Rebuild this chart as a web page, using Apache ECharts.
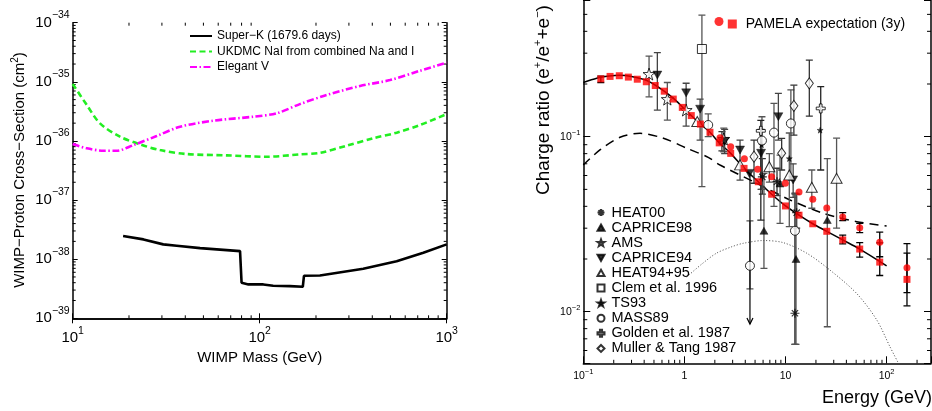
<!DOCTYPE html>
<html><head><meta charset="utf-8">
<script src="https://cdn.jsdelivr.net/npm/echarts@6/dist/echarts.min.js"></script>
<style>html,body{margin:0;padding:0;background:#fff}#c{width:932px;height:411px}</style>
</head><body><div id="c"></div>
<script>
// ================= LEFT PANEL DATA =================
const superkMass  = [18.6, 23.9, 30.5, 36, 48, 78.5, 80, 87, 104.5, 118, 145, 170, 172.5, 210, 358, 540, 750, 1000];
const superkSigma = [2.46e-38, 2.16e-38, 1.78e-38, 1.69e-38, 1.54e-38, 1.37e-38, 3.99e-39, 3.74e-39, 3.74e-39, 3.55e-39, 3.5e-39, 3.41e-39, 5.24e-39, 5.3e-39, 6.88e-39, 9.2e-39, 1.28e-38, 1.78e-38];
const ukdmcMass   = [10, 11.9, 14, 17.9, 22.9, 29.3, 40.7, 66.7, 109, 164, 210, 292, 405, 540, 720, 1000];
const ukdmcSigma  = [9.2e-36, 4.05e-36, 1.98e-36, 1.18e-36, 8.75e-37, 7.0e-37, 6.0e-37, 5.7e-37, 5.4e-37, 5.93e-37, 6.3e-37, 8.3e-37, 1.11e-36, 1.38e-36, 1.86e-36, 2.85e-36];
const elegantMass = [10, 11.9, 14.6, 17.2, 21.1, 28.1, 37.5, 56.5, 92.5, 123, 164, 228, 344, 497, 720, 1000];
const elegantSigma= [8.87e-37, 7.5e-37, 6.83e-37, 6.83e-37, 8.5e-37, 1.21e-36, 1.74e-36, 2.2e-36, 2.57e-36, 2.93e-36, 4.2e-36, 5.98e-36, 8.5e-36, 1.07e-35, 1.54e-35, 2.1e-35];
const leftXRange = [10, 1000];
const leftYRange = [0.9995e-39, 1.0005e-34];
const leftXDecades = [10, 100];
const leftYDecades = [1e-39, 1e-38, 1e-37, 1e-36, 1e-35];
const minorMult = [2, 3, 4, 5, 6, 7, 8, 9];

// ================= RIGHT PANEL DATA =================
const rightXRange = [0.1, 274.8];
const rightYRange = [0.005071, 0.604];
const minorXTicks = [0.2,0.3,0.4,0.5,0.6,0.7,0.8,0.9, 2,3,4,5,6,7,8,9, 20,30,40,50,60,70,80,90, 200];
const minorYTicks = [0.006,0.007,0.008,0.009, 0.02,0.03,0.04,0.05,0.06,0.07,0.08,0.09, 0.2,0.3,0.4,0.5,0.6];

// model curves
const solidE  = [0.1, 0.136, 0.18, 0.227, 0.3, 0.42, 0.6, 0.776, 1.0, 1.44, 1.79, 2.21, 2.87, 3.89, 5.38, 7.29, 10, 13.6, 18.6, 25.6, 36.8, 54.2, 100];
const solidR  = [0.204, 0.216, 0.222, 0.2245, 0.221, 0.21, 0.186, 0.166, 0.144, 0.118, 0.106, 0.0922, 0.0803, 0.0659, 0.0553, 0.0469, 0.0402, 0.0356, 0.0318, 0.0288, 0.0257, 0.0228, 0.0183];
const dashedE = [0.1, 0.146, 0.231, 0.364, 0.62, 1.054, 1.72, 2.25, 5.19, 11.1, 23.7, 50.6, 100];
const dashedR = [0.0689, 0.084, 0.0993, 0.1045, 0.098, 0.0859, 0.0762, 0.0689, 0.0542, 0.0435, 0.0365, 0.0327, 0.0309];
const dottedE = [1.054, 1.5, 2.08, 3.0, 3.83, 6.03, 9.5, 16.2, 27.5, 50.6, 79.8, 108, 131];
const dottedR = [0.0158, 0.0188, 0.0216, 0.0236, 0.0246, 0.0255, 0.0248, 0.0216, 0.0173, 0.0127, 0.00898, 0.0063, 0.00507];

// PAMELA expectation
const pamSqE  = [0.149, 0.184, 0.227, 0.279, 0.342, 0.42, 0.515, 0.632, 0.776, 0.953, 1.17, 1.44, 1.79, 2.21, 2.87, 3.89, 5.38, 7.29, 10.0, 13.6, 18.6, 25.6, 36.8, 54.2, 85.5, 159];
const pamSqR  = [0.214, 0.221, 0.223, 0.219, 0.213, 0.206, 0.196, 0.182, 0.164, 0.147, 0.132, 0.118, 0.106, 0.0922, 0.0803, 0.0659, 0.0553, 0.0469, 0.0402, 0.0356, 0.0318, 0.0288, 0.0257, 0.0228, 0.0192, 0.0153];
const pamCirE = [2.25, 2.87, 3.92, 5.31, 7.29, 9.96, 13.6, 18.6, 25.6, 36.8, 54.2, 85.5, 159];
const pamCirR = [0.0987, 0.0875, 0.0749, 0.0652, 0.059, 0.0542, 0.0483, 0.0439, 0.0391, 0.0348, 0.0302, 0.0249, 0.0178];
const pamErrE  = [0.149, 36.8, 36.8, 54.2, 54.2, 85.5, 85.5, 159, 159];
const pamErrLo = [0.204, 0.0331, 0.0244, 0.0283, 0.0205, 0.0206, 0.0161, 0.01285, 0.0108];
const pamErrHi = [0.222, 0.0368, 0.0274, 0.032, 0.0248, 0.0285, 0.0247, 0.0245, 0.0216];

// measurements
const heat00E  = [2.35, 5.9, 8.24, 12.9, 12.4];
const heat00R  = [0.094, 0.0589, 0.0553, 0.0368, 0.0098];
const heat00Lo = [0.083, 0.047, 0.046, 0.030, 0.0065];
const heat00Hi = [0.107, 0.075, 0.066, 0.047, 0.0475];

const cap98E  = [6.12, 8.83, 12.7, 25.9];
const cap98R  = [0.029, 0.054, 0.0200, 0.0334];
const cap98Lo = [0.0177, 0.032, 0.0065, 0.0082];
const cap98Hi = [0.0617, 0.0785, 0.047, 0.075];

const amsE  = [0.447, 0.678, 1.04, 2.45];
const amsR  = [0.228, 0.164, 0.142, 0.097];
const amsLo = [0.169, 0.1245, null, 0.082];
const amsHi = [0.289, 0.204, null, 0.112];

const cap94E  = [0.54, 1.04, 1.43, 2.5, 3.55, 4.39, 5.73, 8.5, 11.9];
const cap94R  = [0.225, 0.178, 0.1436, 0.094, 0.0839, 0.0617, 0.0804, 0.130, 0.0566];
const cap94Lo = [0.142, 0.115, 0.0957, 0.08, 0.0565, null, 0.05, 0.0957, 0.045];
const cap94Hi = [0.302, 0.202, 0.164, 0.11, 0.0957, null, 0.11, 0.177, 0.07];

const heat94E  = [1.34, 3.55, 6.92, 10.9, 18.2, 32];
const heat94R  = [0.122, 0.069, 0.0674, 0.0604, 0.0514, 0.0578];
const heat94Lo = [null, null, 0.055, 0.0306, 0.039, 0.030];
const heat94Hi = [null, null, 0.08, 0.105, 0.0645, 0.098];

const clemE  = [1.49];
const clemR  = [0.317];
const clemLo = [0.0518];
const clemHi = [0.495];

const ts93E = [5.8, 10.9, 22.0];
const ts93R = [0.09, 0.075, 0.109];

const massE  = [1.72, 4.45, 5.85, 7.69, 11.3, 12.4];
const massR  = [0.1166, 0.0183, 0.095, 0.1055, 0.119, 0.029];
const massLo = [0.10, 0.0135, 0.05, 0.04, 0.0565, 0.0065];
const massHi = [0.135, 0.033, 0.13, 0.155, 0.185, 0.047];
const massLimE   = [4.45];
const massLimTop = [0.0617];
const massLimBot = [0.0085];

const goldenE  = [5.7, 22.3];
const goldenR  = [0.108, 0.145];
const goldenLo = [0.0334, 0.0645];
const goldenHi = [0.124, 0.193];

const mullerE  = [4.88, 9.16, 12.1, 17.2];
const mullerR  = [0.0769, 0.0804, 0.150, 0.2018];
const mullerLo = [0.0542, 0.0645, 0.102, 0.131];
const mullerHi = [0.0957, 0.0979, 0.197, 0.274];

// ================= HELPERS =================
const FONT = 'Liberation Sans, Arial, Helvetica, sans-serif';
const zip = (a, b) => a.map((v, i) => [v, b[i]]);
const errData = (E, lo, hi) => E.map((e, i) => [e, lo[i], hi[i]]).filter(d => d[1] != null && d[2] != null);
const minorOf = decs => decs.flatMap(d => minorMult.map(m => m * d));
function decade(v) {
  const l = Math.log10(v), e = Math.round(l);
  return Math.abs(l - e) < 1e-6 ? e : null;
}
function leftFmt(v) {
  const e = decade(v); if (e === null) return '';
  return '{b|10}{s|' + (e < 0 ? '\u2212' + (-e) : e) + '}';
}
function rightFmt(v) {
  const e = decade(v); if (e === null) return '';
  if (e === 0) return '{b|1}';
  if (e === 1) return '{b|10}';
  return '{b|10}{s|' + (e < 0 ? '\u2212' + (-e) : e) + '}';
}
const leftRich = { b: { fontSize: 15, lineHeight: 26, fontFamily: FONT, color: '#000' }, s: { fontSize: 10.5, lineHeight: 8, verticalAlign: 'top', fontFamily: FONT, color: '#000' } };
const rightRich = { b: { fontSize: 10.5, lineHeight: 16, fontFamily: FONT, color: '#000' }, s: { fontSize: 7.5, lineHeight: 6, verticalAlign: 'top', fontFamily: FONT, color: '#000' } };

function errRender(color, half) {
  return function (params, api) {
    const x = api.value(0);
    const a = api.coord([x, api.value(2)]);
    const b = api.coord([x, api.value(1)]);
    const st = { stroke: color, lineWidth: 1.3 };
    return { type: 'group', children: [
      { type: 'line', shape: { x1: a[0], y1: a[1], x2: b[0], y2: b[1] }, style: st },
      { type: 'line', shape: { x1: a[0] - half, y1: a[1], x2: a[0] + half, y2: a[1] }, style: st },
      { type: 'line', shape: { x1: b[0] - half, y1: b[1], x2: b[0] + half, y2: b[1] }, style: st }
    ] };
  };
}
function arrowRender(params, api) {
  const x = api.value(0);
  const a = api.coord([x, api.value(1)]);
  const b = api.coord([x, api.value(2)]);
  const st = { stroke: '#000', lineWidth: 1.2, fill: null };
  return { type: 'group', children: [
    { type: 'line', shape: { x1: a[0], y1: a[1], x2: b[0], y2: b[1] }, style: st },
    { type: 'polyline', shape: { points: [[b[0] - 3, b[1] - 6], [b[0], b[1]], [b[0] + 3, b[1] - 6]] }, style: st }
  ] };
}
function tickRender(dir, len) {
  return function (params, api) {
    const p = api.coord([api.value(0), api.value(1)]);
    const q = dir === 'up' ? [p[0], p[1] - len] : dir === 'down' ? [p[0], p[1] + len] : dir === 'right' ? [p[0] + len, p[1]] : [p[0] - len, p[1]];
    return { type: 'line', shape: { x1: p[0], y1: p[1], x2: q[0], y2: q[1] }, style: { stroke: '#000', lineWidth: 1 } };
  };
}
function ticks(xi, yi, data, dir, len) {
  return { type: 'custom', xAxisIndex: xi, yAxisIndex: yi, data, renderItem: tickRender(dir, len), clip: false, silent: true, z: 2 };
}

const SYM = {
  asterisk: 'path://M5 0L5 10M0 5L10 5M1.5 1.5L8.5 8.5M8.5 1.5L1.5 8.5',
  star: 'path://M5 0L6.18 3.38L9.76 3.45L6.9 5.62L7.94 9.05L5 7L2.06 9.05L3.1 5.62L0.24 3.45L3.82 3.38Z',
  down: 'path://M0 0L10 0L5 9Z',
  up: 'path://M5 0L10 9L0 9Z',
  plus: 'path://M3.5 0L6.5 0L6.5 3.5L10 3.5L10 6.5L6.5 6.5L6.5 10L3.5 10L3.5 6.5L0 6.5L0 3.5L3.5 3.5Z'
};
const hollow = { color: '#fff', borderColor: '#000', borderWidth: 1 };
const filled = { color: '#000', borderColor: '#000', borderWidth: 0.5 };

function scat(name, E, R, symbol, size, style) {
  return { name, type: 'scatter', xAxisIndex: 2, yAxisIndex: 2, data: zip(E, R), symbol, symbolSize: size, itemStyle: style, z: 5, silent: true };
}
function ebar(E, lo, hi, color) {
  return { type: 'custom', xAxisIndex: 2, yAxisIndex: 2, data: errData(E, lo, hi), renderItem: errRender(color || '#555', 3.5), encode: { x: 0, y: [1, 2] }, clip: true, z: 3, silent: true };
}

const expNames = ['HEAT00','CAPRICE98','AMS','CAPRICE94','HEAT94+95','Clem et al. 1996','TS93','MASS89','Golden et al. 1987','Muller & Tang 1987'];
const leftMinorX = minorOf(leftXDecades);
const leftMinorY = minorOf(leftYDecades);

const chart = echarts.init(document.getElementById('c'), null, { renderer: 'canvas' });
chart.setOption({
  animation: false,
  backgroundColor: '#fff',
  textStyle: { fontFamily: FONT },
  grid: [
    { left: 72.7, top: 22.7, width: 374, height: 295.6, containLabel: false, outerBoundsMode: 'none' },
    { left: 583.3, top: 0, width: 347.7, height: 363.3, containLabel: false, outerBoundsMode: 'none' }
  ],
  xAxis: [
    { gridIndex: 0, type: 'log', min: leftXRange[0], max: leftXRange[1], position: 'bottom',
      axisLine: { lineStyle: { color: '#000', width: 1.5 } }, axisTick: { inside: true, length: 5, lineStyle: { color: '#000' } },
      splitLine: { show: false }, axisLabel: { formatter: leftFmt, rich: leftRich, margin: 7, showMinLabel: true, showMaxLabel: true },
      name: 'WIMP Mass (GeV)', nameLocation: 'middle', nameGap: 26, nameTextStyle: { fontSize: 15, color: '#000', fontFamily: FONT } },
    { gridIndex: 0, type: 'log', min: leftXRange[0], max: leftXRange[1], position: 'top',
      axisLine: { lineStyle: { color: '#000', width: 1.5 } }, axisTick: { inside: true, length: 5, lineStyle: { color: '#000' } },
      splitLine: { show: false }, axisLabel: { show: false } },
    { gridIndex: 1, type: 'log', min: rightXRange[0], max: rightXRange[1], position: 'bottom',
      axisLine: { lineStyle: { color: '#000', width: 1.5 } }, axisTick: { inside: true, length: 7, lineStyle: { color: '#000' } },
      splitLine: { show: false }, axisLabel: { formatter: rightFmt, rich: rightRich, margin: 5 } }
  ],
  yAxis: [
    { gridIndex: 0, type: 'log', min: leftYRange[0], max: leftYRange[1], position: 'left',
      axisLine: { lineStyle: { color: '#000', width: 1.5 } }, axisTick: { inside: true, length: 5, lineStyle: { color: '#000' } },
      splitLine: { show: false }, axisLabel: { formatter: leftFmt, rich: leftRich, margin: 3, hideOverlap: false } },
    { gridIndex: 0, type: 'log', min: leftYRange[0], max: leftYRange[1], position: 'right',
      axisLine: { lineStyle: { color: '#000', width: 1.5 } }, axisTick: { inside: true, length: 5, lineStyle: { color: '#000' } },
      splitLine: { show: false }, axisLabel: { show: false } },
    { gridIndex: 1, type: 'log', min: rightYRange[0], max: rightYRange[1], position: 'left',
      axisLine: { lineStyle: { color: '#000', width: 1.5 } }, axisTick: { inside: true, length: 7, lineStyle: { color: '#000' } },
      splitLine: { show: false }, axisLabel: { formatter: rightFmt, rich: rightRich, margin: 3 } },
    { gridIndex: 1, type: 'log', min: rightYRange[0], max: rightYRange[1], position: 'right',
      axisLine: { lineStyle: { color: '#000', width: 1.5 } }, axisTick: { inside: true, length: 7, lineStyle: { color: '#000' } },
      splitLine: { show: false }, axisLabel: { show: false } }
  ],
  legend: [
    { left: 189, top: 30, padding: 0, orient: 'vertical', itemWidth: 22, itemHeight: 12, itemGap: 3.5,
      itemStyle: { color: 'rgba(0,0,0,0)', borderWidth: 0, borderColor: 'rgba(0,0,0,0)' },
      textStyle: { fontSize: 12, color: '#000', fontFamily: FONT },
      data: ['Super\u2212K (1679.6 days)', 'UKDMC NaI from combined Na and I', 'Elegant V'], selectedMode: false },
    { left: 596.5, top: 205, padding: 0, orient: 'vertical', itemWidth: 7, itemHeight: 7, itemGap: 0,
      textStyle: { fontSize: 14.5, color: '#000', fontFamily: FONT, lineHeight: 15.1, padding: [0, 0, 0, 2] },
      data: expNames, selectedMode: false },
    { left: 714.5, top: 17, padding: 0, orient: 'horizontal', itemWidth: 9, itemHeight: 9,
      formatter: () => '', data: ['PAMELA circles'], selectedMode: false },
    { left: 727.8, top: 17, padding: 0, orient: 'horizontal', itemWidth: 9, itemHeight: 9,
      textStyle: { fontSize: 14, color: '#000', fontFamily: FONT, padding: [0, 0, 0, 4] },
      data: ['PAMELA expectation (3y)'], selectedMode: false }
  ],
  graphic: [
    { type: 'text', x: 20, y: 170, rotation: Math.PI / 2, silent: true,
      style: { text: 'WIMP\u2212Proton Cross\u2212Section (cm{s|2})', fontSize: 15, fontFamily: FONT, fill: '#000', align: 'center', verticalAlign: 'middle', lineHeight: 20,
        rich: { s: { fontSize: 10, lineHeight: 8, verticalAlign: 'top', fontFamily: FONT, fill: '#000' } } } },
    { type: 'text', x: 544, y: 100, rotation: Math.PI / 2, silent: true,
      style: { text: 'Charge ratio (e{s|+}/e{s|+}+e{s|\u2212})', fontSize: 19, fontFamily: FONT, fill: '#000', align: 'center', verticalAlign: 'middle', lineHeight: 24,
        rich: { s: { fontSize: 11, lineHeight: 10, verticalAlign: 'top', fontFamily: FONT, fill: '#000' } } } },
    { type: 'text', x: 932, y: 398, silent: true,
      style: { text: 'Energy (GeV)', fontSize: 18, fontFamily: FONT, fill: '#000', align: 'right', verticalAlign: 'middle' } }
  ],
  series: [
    // ---- left: minor ticks ----
    ticks(0, 0, leftMinorX.map(v => [v, leftYRange[0]]), 'up', 3),
    ticks(0, 0, leftMinorX.map(v => [v, leftYRange[1]]), 'down', 3),
    ticks(0, 0, leftMinorY.map(v => [leftXRange[0], v]), 'right', 3),
    ticks(0, 0, leftMinorY.map(v => [leftXRange[1], v]), 'left', 3),
    // ---- left ----
    { name: 'Super\u2212K (1679.6 days)', type: 'line', xAxisIndex: 0, yAxisIndex: 0, data: zip(superkMass, superkSigma),
      showSymbol: false, symbol: 'none', lineStyle: { color: '#000', width: 2.6 }, itemStyle: { color: '#000' }, z: 4 },
    { name: 'UKDMC NaI from combined Na and I', type: 'line', xAxisIndex: 0, yAxisIndex: 0, data: zip(ukdmcMass, ukdmcSigma),
      smooth: 0.3, showSymbol: false, symbol: 'none', lineStyle: { color: '#22ee22', width: 2.6, type: [6, 3.5] }, itemStyle: { color: '#22ee22' }, z: 3 },
    { name: 'Elegant V', type: 'line', xAxisIndex: 0, yAxisIndex: 0, data: zip(elegantMass, elegantSigma),
      smooth: 0.3, showSymbol: false, symbol: 'none', lineStyle: { color: '#ff00ff', width: 2.6, type: [7, 2.5, 1.5, 2.5] }, itemStyle: { color: '#ff00ff' }, z: 3 },
    // ---- right: minor ticks ----
    ticks(2, 2, minorXTicks.map(v => [v, rightYRange[0]]), 'up', 3.5),
    ticks(2, 2, minorYTicks.map(v => [rightXRange[0], v]), 'right', 4),
    ticks(2, 2, minorYTicks.map(v => [rightXRange[1], v]), 'left', 4),
    // ---- right: model curves ----
    { type: 'line', xAxisIndex: 2, yAxisIndex: 2, data: zip(solidE, solidR), smooth: 0.3, showSymbol: false, symbol: 'none', lineStyle: { color: '#000', width: 1.5 }, z: 2, silent: true },
    { type: 'line', xAxisIndex: 2, yAxisIndex: 2, data: zip(dashedE, dashedR), smooth: 0.3, showSymbol: false, symbol: 'none', lineStyle: { color: '#000', width: 1.5, type: [9, 6] }, z: 2, silent: true },
    { type: 'line', xAxisIndex: 2, yAxisIndex: 2, data: zip(dottedE, dottedR), smooth: 0.3, showSymbol: false, symbol: 'none', lineStyle: { color: '#444', width: 1, type: [1, 2] }, z: 2, silent: true },
    // ---- right: error bars ----
    ebar(heat00E, heat00Lo, heat00Hi, '#333'),
    ebar(cap98E, cap98Lo, cap98Hi, '#555'),
    ebar(amsE, amsLo, amsHi, '#555'),
    ebar(cap94E, cap94Lo, cap94Hi, '#444'),
    ebar(heat94E, heat94Lo, heat94Hi, '#555'),
    ebar(clemE, clemLo, clemHi, '#555'),
    ebar(massE, massLo, massHi, '#555'),
    ebar(goldenE, goldenLo, goldenHi, '#222'),
    ebar(mullerE, mullerLo, mullerHi, '#333'),
    ebar(pamErrE, pamErrLo, pamErrHi, '#000'),
    { type: 'custom', xAxisIndex: 2, yAxisIndex: 2, data: massLimE.map((e, i) => [e, massLimTop[i], massLimBot[i]]), renderItem: arrowRender, encode: { x: 0, y: [1, 2] }, z: 3, silent: true },
    // ---- right: markers ----
    scat('HEAT00', heat00E, heat00R, SYM.asterisk, 9, { color: 'rgba(0,0,0,0)', borderColor: '#000', borderWidth: 1.2 }),
    scat('CAPRICE98', cap98E, cap98R, SYM.up, [8, 7], filled),
    scat('AMS', amsE, amsR, SYM.star, 12, hollow),
    scat('CAPRICE94', cap94E, cap94R, SYM.down, [9, 8], filled),
    scat('HEAT94+95', heat94E, heat94R, SYM.up, [11, 10], hollow),
    scat('Clem et al. 1996', clemE, clemR, 'rect', 9, hollow),
    scat('TS93', ts93E, ts93R, SYM.star, 6, filled),
    scat('MASS89', massE, massR, 'circle', 9, hollow),
    scat('Golden et al. 1987', goldenE, goldenR, SYM.plus, 9, hollow),
    scat('Muller & Tang 1987', mullerE, mullerR, 'diamond', [8, 11], hollow),
    scat('PAMELA circles', pamCirE, pamCirR, 'circle', 7, { color: '#ff0000' }),
    scat('PAMELA expectation (3y)', pamSqE, pamSqR, 'rect', 7, { color: '#ff0000' })
  ]
});
</script></body></html>
